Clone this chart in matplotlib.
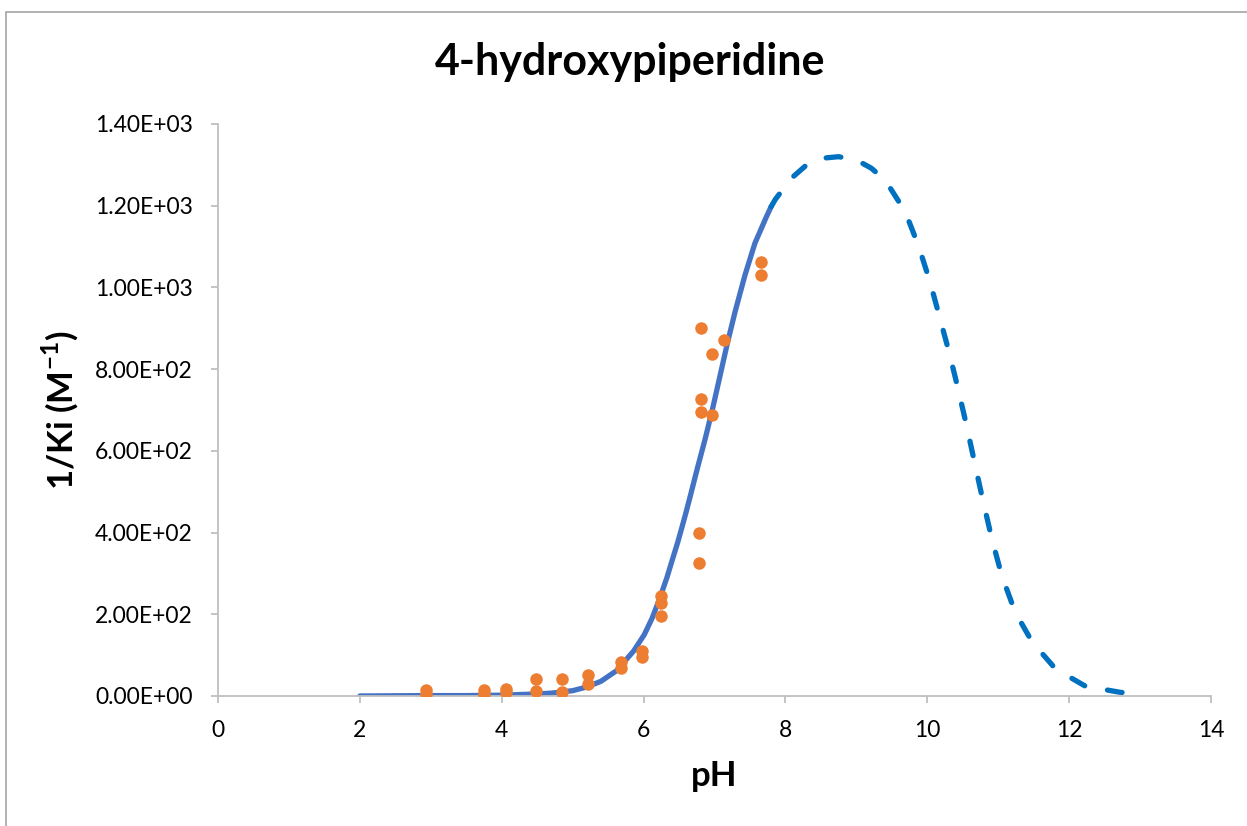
import numpy as np
import matplotlib.pyplot as plt
from matplotlib.patches import Rectangle

# measured points (pH, 1/Ki)
ph_pts = [2.93, 2.93, 3.75, 3.75, 4.06, 4.06, 4.48, 4.48, 4.85, 4.85,
          5.21, 5.21, 5.68, 5.68, 5.98, 5.98, 6.25, 6.25, 6.25,
          6.78, 6.78, 6.81, 6.81, 6.81, 6.96, 6.96, 7.13, 7.66, 7.66]
inv_ki = [15, 4, 14, 5, 17, 10, 42, 11, 42, 9,
          51, 29, 83, 69, 109, 95, 244, 227, 196,
          398, 325, 900, 726, 696, 837, 688, 871, 1062, 1031]

# fitted curve, solid over the measured range
ph_fit = [2.0, 3.0, 3.5, 4.0, 4.5, 4.7, 5.0, 5.2, 5.4, 5.62, 5.86, 6.01, 6.12,
          6.22, 6.33, 6.40, 6.48, 6.54, 6.60, 6.66, 6.76, 6.87, 6.98, 7.08,
          7.18, 7.29, 7.43, 7.57, 7.73, 7.80]
fit_val = [0, 1, 1, 2, 5, 7, 13, 22, 36, 62, 110, 150, 190,
           235, 290, 330, 375, 412, 450, 490, 558, 630, 708, 785,
           862, 940, 1030, 1108, 1172, 1198]

# extrapolated part (dashed)
ph_ext = [7.80, 7.86, 8.09, 8.30, 8.51, 8.75, 9.01, 9.21, 9.41, 9.69, 9.88,
          10.04, 10.17, 10.31, 10.43, 10.55, 10.65, 10.77, 10.91, 11.05,
          11.24, 11.48, 11.81, 12.23, 12.72, 12.85]
ext_val = [1198, 1216, 1268, 1300, 1316, 1320, 1311, 1292, 1262, 1185, 1100,
           1013, 930, 840, 755, 665, 585, 490, 385, 295,
           205, 132, 66, 24, 9, 7]

xticks = np.arange(0, 15, 2)
yticks = np.arange(0, 1401, 200)
ytick_labels = ['0.00E+00', '2.00E+02', '4.00E+02', '6.00E+02',
                '8.00E+02', '1.00E+03', '1.20E+03', '1.40E+03']

plt.rcParams['font.family'] = ['Lato', 'DejaVu Sans']
plt.rcParams['mathtext.fontset'] = 'custom'
plt.rcParams['mathtext.rm'] = 'Lato'
plt.rcParams['mathtext.bf'] = 'Lato:bold'

fig = plt.figure(figsize=(12.47, 8.26), dpi=100)
ax = fig.add_axes([0.1748, 0.1574, 0.9711 - 0.1748, 0.8499 - 0.1574])

# chart-area border
fig.patches.append(Rectangle((6 / 1247, -0.1), 1.2, 1 - 12 / 826 + 0.1,
                             transform=fig.transFigure, fill=False,
                             edgecolor='#a6a6a6', lw=1.2))

ax.plot(ph_fit, fit_val, color='#4472C4', lw=3.8, solid_capstyle='round',
        solid_joinstyle='round', zorder=2)
ax.plot(ph_ext, ext_val, color='#0070C0', lw=3.8, dashes=(2.8, 4.4),
        dash_capstyle='round', zorder=2)
ax.plot(ph_pts, inv_ki, 'o', color='#ED7D31', ms=9, mec='none', zorder=3)

ax.set_xlim(0, 14)
ax.set_ylim(0, 1400)
ax.set_xticks(xticks)
ax.set_yticks(yticks)
ax.set_yticklabels(ytick_labels)

for s in ['top', 'right']:
    ax.spines[s].set_visible(False)
for s in ['left', 'bottom']:
    ax.spines[s].set_color('#bfbfbf')
    ax.spines[s].set_linewidth(1.3)
ax.tick_params(direction='out', length=5, width=1.3, color='#bfbfbf',
               labelsize=16.5, labelcolor='black')
ax.tick_params(axis='y', pad=13)
ax.tick_params(axis='x', pad=12)

ax.set_xlabel('pH', fontsize=25, fontweight='bold', labelpad=14)
ax.set_ylabel(r'1/Ki (M$^{\mathbf{-1}}$)', fontsize=25, fontweight='bold', labelpad=10)
fig.text(0.505, 0.925, '4-hydroxypiperidine', ha='center', va='center',
         fontsize=31, fontweight='bold')

fig.savefig('out.png', dpi=100)
